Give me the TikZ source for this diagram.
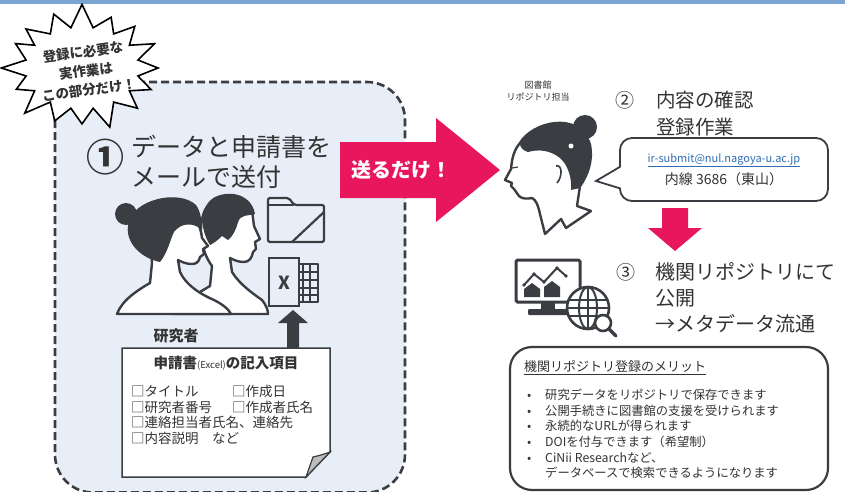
\documentclass[tikz,border=0pt]{standalone}
\usepackage{fontspec}
\setmainfont{Noto Sans CJK JP}
\newcommand\fsz[2]{\fontsize{#1}{#2}\selectfont}
\definecolor{ink}{HTML}{333333}
\definecolor{icon}{HTML}{3A3D42}
\definecolor{accent}{HTML}{E8175D}
\definecolor{panelblue}{HTML}{E8EEF7}
\definecolor{bandblue}{HTML}{7DA5D4}
\definecolor{linkblue}{HTML}{2F6DB5}
\definecolor{foldgray}{HTML}{BDBDBD}
\begin{document}
\begin{tikzpicture}[x=1pt,y=-1pt,
  every node/.style={inner sep=0pt, text=ink},
  person/.style={fill=white, draw=icon, line width=2.4pt, line join=round},
  iconline/.style={draw=icon, line width=2.2pt, line join=round},
  panel/.style={fill=panelblue, draw=icon, line width=2.6pt, dash pattern=on 8pt off 4pt, rounded corners=38pt},
  burst/.style={fill=white, draw=black, line width=1.6pt, line join=miter},
  bursttext/.style={font=\bfseries\fsz{13.5}{17}, rotate=8},
  heading/.style={anchor=west, align=left},
  bigarrow/.style={fill=accent},
  framebox/.style={draw=icon, line width=2.2pt, fill=white, rounded corners=22pt},
]
\useasboundingbox (0,0) rectangle (845,492);
\fill[white] (0,0) rectangle (845,492);
\fill[bandblue] (0,0) rectangle (845,4);

% ---------- left panel: what the researcher does ----------
\draw[panel] (55,82) rectangle (405,492.5);

% star-shaped callout, one node per line of its text
\filldraw[burst] plot[samples at={0,...,31}, variable=\k]
  ({82+(mod(\k,2)==0 ? 76+5*sin(\k*97) : 57)*cos(\k*11.25)},
   {68+(mod(\k,2)==0 ? 59+5*cos(\k*61) : 41)*sin(\k*11.25)}) -- cycle;
\node[bursttext] (noteA) at (83,52) {登録に必要な};
\node[bursttext] (noteB) at (86,71) {実作業は};
\node[bursttext] (noteC) at (89,90) {この部分だけ！};

% step 1 heading
\node[font=\bfseries\fsz{38}{38}] (one) at (105,157) {①};
\node[heading, font=\fsz{25}{30}] (send) at (131,162) {データと申請書を\\メールで送付};

% researchers (man behind, woman in front)
\filldraw[person] (173,314) .. controls (185,300) and (200,292) .. (210,286) -- (212,266)
  .. controls (200,250) and (198,225) .. (205,210) .. controls (215,193) and (245,190) .. (252,210)
  -- (254,226) -- (260,239) -- (255,242) -- (256,249) -- (253,252)
  .. controls (252,258) and (249,262) .. (244,262) .. controls (238,262) and (234,260) .. (230,258)
  -- (232,272) .. controls (240,285) and (255,295) .. (262,300) .. controls (266,305) and (268,310) .. (268,314) -- cycle;
\fill[icon] (210,245) .. controls (199,228) and (200,205) .. (215,197) .. controls (232,189) and (252,196) .. (255,214)
  .. controls (248,216) and (241,214) .. (238,222) .. controls (236,230) and (233,236) .. (228,240)
  -- (222,236) .. controls (218,240) and (214,243) .. (210,245) -- cycle;
\filldraw[person] (117,314) .. controls (122,300) and (138,290) .. (150,283) -- (152,263)
  .. controls (150,236) and (165,215) .. (190,215) .. controls (199,220) and (201,231) .. (202,238)
  -- (208,246) -- (203,249) -- (204,254) -- (200,257)
  .. controls (199,262) and (196,264) .. (192,264) .. controls (186,264) and (182,262) .. (178,260)
  -- (180,272) .. controls (186,285) and (200,294) .. (214,300) .. controls (224,305) and (229,310) .. (231,314) -- cycle;
\fill[icon] (160,262) .. controls (140,258) and (121,240) .. (130,218) .. controls (140,198) and (180,190) .. (196,205)
  .. controls (201,212) and (202,222) .. (201,229) .. controls (192,222) and (181,223) .. (174,232)
  .. controls (170,240) and (168,252) .. (160,262) -- cycle;
\fill[icon] (126,214) circle (11);
\node[font=\bfseries\fsz{15}{17}] (researcher) at (176,336) {研究者};

% folder icon
\draw[iconline, rounded corners=2pt] (268,242) -- (268,198) -- (289,198) -- (294,205) -- (324,205) -- (324,242) -- cycle;
\draw[iconline] (268,205) -- (294,205);
\draw[iconline] (292,242) -- (324,212);

% spreadsheet icon
\draw[iconline] (290,264) rectangle (318,302);
\foreach \gx in {303,310} \draw[icon, line width=1.4pt] (\gx,264) -- (\gx,302);
\foreach \gy in {272,280,288,295} \draw[icon, line width=1.4pt] (299,\gy) -- (318,\gy);
\filldraw[fill=panelblue, draw=icon, line width=2.4pt] (269,258) rectangle (299,306);
\node[font=\bfseries\fsz{18}{18}, text=icon] (xls) at (284,283) {X};

% upload arrow from the form to the spreadsheet
\fill[icon] (287,349) -- (287,323) -- (278,323) -- (293,310) -- (308,323) -- (299,323) -- (299,349) -- cycle;

% application form with folded corner
\filldraw[fill=white, draw=icon, line width=1.5pt] (122,348) -- (330,348) -- (330,452) -- (306,477) -- (122,477) -- cycle;
\filldraw[fill=foldgray, draw=icon, line width=1.2pt] (330,452) .. controls (322,455) and (317,456) .. (313,457) -- (306,477) -- cycle;
\node[font=\bfseries\fsz{14.5}{17}] (formtitle) at (226,363) {申請書{\mdseries\fsz{9.5}{11}(Excel)}の記入項目};
\node[anchor=north west, align=left, font=\fsz{13.5}{15.5}] (items) at (131,385)
  {\makebox[101pt][l]{□タイトル}□作成日\\
   \makebox[101pt][l]{□研究者番号}□作成者氏名\\
   □連絡担当者氏名、連絡先\\
   □内容説明　など};

% ---------- hand-over arrow ----------
\fill[bigarrow] (340,142) -- (436,142) -- (436,118) -- (500,170) -- (436,222) -- (436,198) -- (340,198) -- cycle;
\node[font=\bfseries\fsz{20}{20}, text=white] (justsend) at (401,170) {送るだけ！};

% ---------- right side: library ----------
\node[align=center, font=\fsz{9}{12}] (staff) at (538,91) {図書館\\リポジトリ担当};

% librarian
\filldraw[person] (545,234) -- (540,214) .. controls (538,205) and (536,200) .. (532,198)
  .. controls (527,199) and (522,199) .. (519,196) -- (514,189) -- (511,186) -- (512,183) -- (505,180) -- (511,169)
  .. controls (512,158) and (514,150) .. (520,143) .. controls (532,122) and (580,110) .. (590,145)
  .. controls (593,160) and (588,175) .. (580,186) -- (577,206) -- (591,211) -- (566,228) -- (561,219) -- cycle;
\fill[icon] (520,145) .. controls (530,122) and (578,110) .. (590,145) .. controls (593,160) and (588,176) .. (580,188)
  -- (571,190) .. controls (572,178) and (568,165) .. (560,158) .. controls (550,150) and (538,149) .. (528,152)
  .. controls (524,151) and (521,148) .. (520,145) -- cycle;
\fill[icon] (585,127) circle (12);
\fill[white] (571,146) circle (2.5);
\draw[icon, line width=1.6pt] (556,166) .. controls (562,164) and (563,176) .. (557,183);
\draw[icon, line width=1.2pt] (512,168) -- (518,167);

% step 2
\node[font=\fsz{19}{19}] (two) at (625,100) {②};
\node[heading, font=\fsz{19.5}{27}] (check) at (656,113.5) {内容の確認\\登録作業};

% contact speech bubble
\node[draw=icon, line width=1.8pt, fill=white, rounded corners=12pt, minimum width=208pt, minimum height=63pt, align=center] (contact) at (724,169.5)
  {{\fsz{11}{13}\color{linkblue}\underline{ir-submit@nul.nagoya-u.ac.jp}}\\[4pt]{\fsz{14}{16}内線 3686（東山）}};
\fill[white] (618.5,167) rectangle (621.5,188);
\draw[icon, line width=1.8pt, line join=miter] (620.5,166.5) -- (596,181) -- (620.5,188.5);

% down arrow
\fill[bigarrow] (662,208) -- (688,208) -- (688,228) -- (702,228) -- (675,251) -- (648,228) -- (662,228) -- cycle;

% monitor with chart
\draw[icon, line width=3pt, fill=white, rounded corners=1.5pt] (516,260) rectangle (580,302);
\fill[icon] (541,302) rectangle (555,309);
\fill[icon, rounded corners=1pt] (528,309) rectangle (568,315);
\draw[icon, line width=2pt] (524,285) -- (534,274) -- (544,282) -- (557,268) -- (566,276);
\foreach \px/\py in {524/285,534/274,544/282,557/268,566/276} \fill[icon] (\px,\py) circle (1.8);
\fill[icon] (524,297) -- (524,289) -- (532,283) -- (540,289) -- (540,297) -- cycle;
\fill[icon] (544,297) -- (544,287) -- (552,281) -- (560,287) -- (560,297) -- cycle;
% globe and magnifier
\filldraw[fill=white, draw=icon, line width=2.6pt] (588,308) circle (21);
\draw[icon, line width=2pt] (588,308) ellipse (9 and 21);
\draw[icon, line width=2pt] (588,287) -- (588,329) (567,308) -- (609,308) (568.6,300) -- (607.4,300) (568.6,316) -- (607.4,316);
\filldraw[fill=white, draw=icon, line width=2.6pt] (603,323) circle (8);
\draw[icon, line width=3.5pt, line cap=round] (609,329) -- (616,336);

% step 3
\node[font=\fsz{19}{19}] (three) at (626,272) {③};
\node[heading, font=\fsz{20}{26}] (publish) at (655,298) {機関リポジトリにて\\公開\\→メタデータ流通};

% merits box
\draw[framebox] (510,347) rectangle (828,490);
\node[anchor=west, font=\fsz{13}{15}] (merittitle) at (524,368) {\underline{機関リポジトリ登録のメリット}};
\node[anchor=north west, align=left, font=\fsz{12.3}{15.6}] (merits) at (527,389)
  {\makebox[18pt][l]{•}研究データをリポジトリで保存できます\\
   \makebox[18pt][l]{•}公開手続きに図書館の支援を受けられます\\
   \makebox[18pt][l]{•}永続的なURLが得られます\\
   \makebox[18pt][l]{•}DOIを付与できます（希望制）\\
   \makebox[18pt][l]{•}CiNii Researchなど、\\
   \makebox[18pt][l]{}データベースで検索できるようになります};
\end{tikzpicture}
\end{document}
